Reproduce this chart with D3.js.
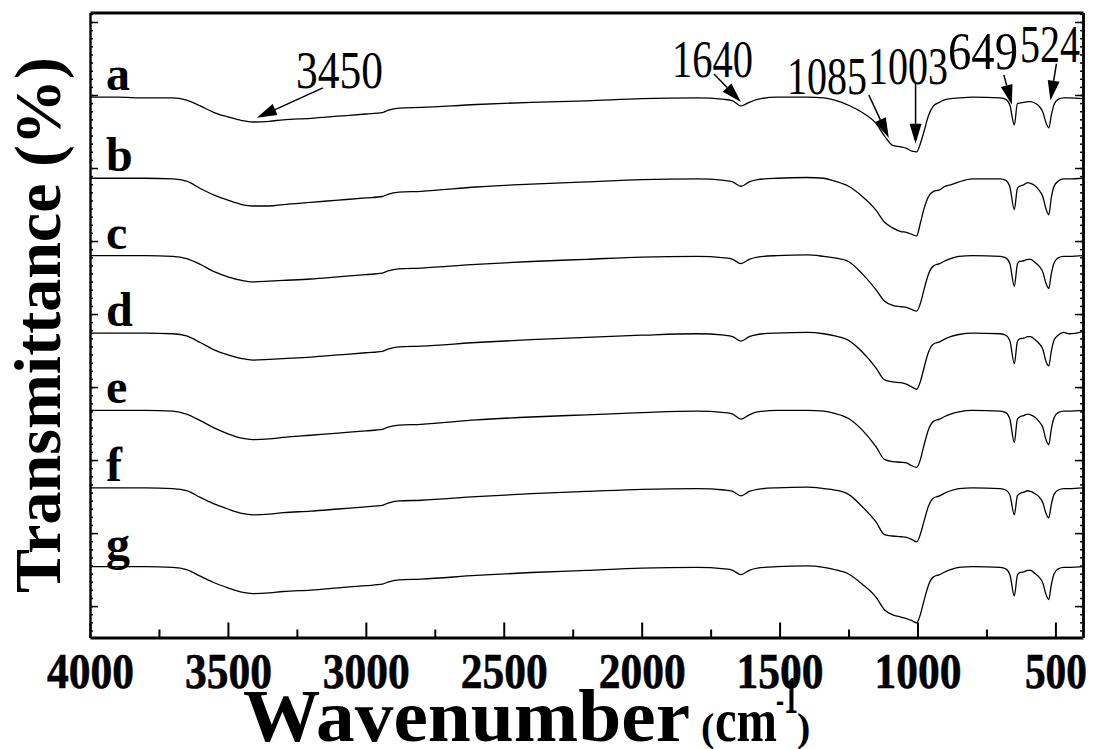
<!DOCTYPE html>
<html><head><meta charset="utf-8">
<script src="https://cdn.jsdelivr.net/npm/d3@7"></script>
<style>body{margin:0;background:#fff;} svg{display:block;}</style>
</head><body><svg id="c" width="1097" height="749"></svg>
<script>
// ---------- data ----------
const wavenumbers = [4000,3900,3800,3700,3650,3600,3550,3500,3450,3410,
  3350,3300,3200,3100,3000,2940,2920,2880,2800,2600,
  2400,2200,2000,1800,1700,1670,1640,1610,1580,1510,
  1400,1340,1300,1250,1200,1150,1120,1090,1060,1040,
  1020,1003,990,978,960,942,920,905,880,850,
  800,700,680,665,649,638,630,615,600,590,
  575,560,545,535,524,515,505,490,470,450,400];
const seriesNames = ["a","b","c","d","e","f","g"];
const offsets = [69.7, 58.6, 48.0, 37.4, 26.8, 16.2, 5.4];
const sA = [0,0,-0.1,-0.1,-0.4,-1.2,-2.1,-2.7,-3.2,-3.4,
  -3.3,-3.1,-2.9,-2.6,-2.3,-2.1,-1.8,-1.5,-1.4,-1.0,
  -0.7,-0.5,-0.2,-0.1,-0.3,-0.5,-1.2,-0.7,-0.3,0,
  0,-0.1,-0.4,-1.1,-2.1,-3.6,-5.3,-6.6,-6.8,-7.0,
  -7.4,-7.5,-6.4,-4.9,-2.5,-1.2,-0.7,-0.4,-0.2,-0.1,
  0,-0.1,-0.3,-1.1,-3.8,-0.9,-0.8,-0.7,-0.6,-0.6,
  -0.8,-1.2,-2.1,-3.4,-4.2,-2.5,-1.0,-0.3,-0.1,-0.1,-0.2];
const sB = [0,0,0,-0.1,-0.4,-1.4,-2.3,-3.0,-3.6,-3.8,
  -3.8,-3.6,-3.3,-3.0,-2.7,-2.5,-2.2,-1.9,-1.8,-1.2,
  -0.8,-0.5,-0.2,-0.1,-0.3,-0.5,-1.1,-0.5,-0.2,0,
  0.1,0,-0.4,-1.1,-2.5,-4.4,-6.0,-6.8,-7.3,-7.4,
  -7.7,-7.9,-6.2,-4.4,-2.5,-1.8,-1.6,-1.2,-0.9,-0.5,
  -0.1,-0.1,-0.3,-1.2,-4.3,-1.4,-1.1,-0.9,-0.6,-0.7,
  -1.0,-1.6,-2.6,-4.1,-5.0,-2.7,-1.1,-0.4,-0.1,-0.1,0];
const sC = [0,0,0,-0.1,-0.4,-1.2,-2.2,-2.9,-3.4,-3.6,
  -3.5,-3.4,-3.2,-2.9,-2.6,-2.4,-2.1,-1.8,-1.7,-1.2,
  -0.8,-0.5,-0.2,-0.1,-0.3,-0.5,-1.1,-0.5,-0.2,0,
  0.1,-0.1,-0.3,-0.8,-2.5,-4.7,-6.2,-6.8,-7.0,-7.1,
  -7.4,-7.6,-6.6,-4.9,-2.5,-1.4,-1.1,-0.8,-0.4,-0.1,
  0,-0.1,-0.3,-1.1,-4.2,-1.2,-0.8,-0.7,-0.5,-0.5,
  -0.9,-1.4,-2.3,-3.7,-4.5,-2.5,-1.0,-0.3,-0.1,-0.1,0];
const sD = [0,0,0,-0.1,-0.4,-1.3,-2.3,-3.0,-3.5,-3.7,
  -3.6,-3.5,-3.3,-3.0,-2.7,-2.5,-2.2,-1.9,-1.8,-1.3,
  -0.9,-0.6,-0.3,-0.1,-0.3,-0.5,-1.1,-0.5,-0.2,0,
  0.1,-0.1,-0.4,-1.0,-2.6,-4.8,-6.4,-6.7,-6.8,-7.0,
  -7.4,-7.7,-6.7,-5.0,-2.6,-1.5,-1.2,-0.9,-0.5,-0.2,
  0,-0.1,-0.3,-1.1,-4.2,-1.2,-0.8,-0.7,-0.5,-0.5,
  -0.9,-1.4,-2.3,-3.8,-4.5,-2.5,-1.0,-0.3,0.1,-0.1,0.2];
const sE = [0,0,0,-0.1,-0.5,-1.4,-2.4,-3.2,-3.8,-4.0,
  -3.9,-3.7,-3.4,-3.1,-2.8,-2.6,-2.3,-2.0,-1.9,-1.3,
  -0.9,-0.6,-0.3,-0.1,-0.3,-0.5,-1.2,-0.6,-0.2,0,
  0,-0.1,-0.4,-1.1,-2.7,-5.0,-6.7,-7.0,-7.1,-7.2,
  -7.6,-7.8,-6.8,-5.0,-2.6,-1.5,-1.2,-0.9,-0.5,-0.2,
  0,-0.1,-0.3,-1.2,-4.4,-1.2,-0.9,-0.7,-0.5,-0.6,
  -0.9,-1.5,-2.4,-3.9,-4.7,-2.6,-1.0,-0.3,-0.1,-0.1,0];
const sF = [0,0,0,-0.1,-0.4,-1.3,-2.2,-2.9,-3.5,-3.7,
  -3.6,-3.4,-3.2,-2.9,-2.6,-2.4,-2.1,-1.8,-1.7,-1.2,
  -0.8,-0.5,-0.2,-0.1,-0.3,-0.5,-1.1,-0.5,-0.2,0,
  0.1,-0.1,-0.3,-0.9,-2.6,-4.7,-6.4,-6.6,-6.7,-6.8,
  -7.1,-7.4,-6.4,-4.8,-2.5,-1.4,-1.1,-0.8,-0.4,-0.1,
  0,-0.1,-0.3,-1.0,-3.7,-1.1,-0.8,-0.6,-0.4,-0.5,
  -0.8,-1.2,-2.1,-3.4,-4.1,-2.3,-0.9,-0.3,-0.1,-0.1,0];
const sG = [0,0,0,-0.1,-0.4,-1.3,-2.2,-2.9,-3.5,-3.7,
  -3.6,-3.4,-3.2,-2.9,-2.6,-2.4,-2.1,-1.8,-1.7,-1.2,
  -0.8,-0.5,-0.2,-0.1,-0.3,-0.5,-1.1,-0.5,-0.2,0,
  0.1,-0.1,-0.4,-1.0,-2.4,-4.2,-5.9,-6.6,-6.9,-7.1,
  -7.4,-7.7,-6.6,-4.9,-2.5,-1.4,-1.1,-0.8,-0.4,-0.1,
  0,-0.1,-0.3,-1.1,-4.0,-1.2,-0.8,-0.7,-0.5,-0.5,
  -0.9,-1.4,-2.3,-3.7,-4.5,-2.5,-1.0,-0.3,-0.1,-0.1,0];

const xTicks = [4000,3500,3000,2500,2000,1500,1000,500];
const xMinorTicks = [3750,3250,2750,2250,1750,1250,750];
const yMajorTicks = [0,10,20,30,40,50,60,70,80];
const yMinorTicks = d3.range(-36, 74).map(k => k * 10 / 9);

const annoText = ["3450","1640","1085","1003","649","524"];
const annoTipWave = [3395, 1640, 1104, 1007, 658, 518];

const xTitle = "Wavenumber";
const yTitle = "Transmittance (%)";

// ---------- layout ----------
const FONT = "'Liberation Serif','Times New Roman',Times,serif";
const svg = d3.select("#c");
const x = d3.scaleLinear().domain([4000, 400]).range([90, 1083]);
const y = d3.scaleLinear().domain([-4.3, 81.3]).range([637.5, 12.5]);
const [x0, x1] = x.range();
const [yB, yT] = y.range();

// spectra
const seriesVals = [sA, sB, sC, sD, sE, sF, sG];
const line = d3.line().x(d => x(d[0])).y(d => y(d[1])).curve(d3.curveMonotoneX);
seriesVals.forEach((vals, i) => {
  const pts = wavenumbers.map((w, j) => [w, offsets[i] + vals[j]]);
  svg.append("path").attr("d", line(pts)).attr("fill", "none")
    .attr("stroke", "#000").attr("stroke-width", 1.3).attr("stroke-linejoin", "round");
});

// series labels
svg.selectAll("text.lab").data(seriesNames).join("text").attr("class", "lab")
  .attr("x", 106).attr("y", (d, i) => y(offsets[i]) - 7)
  .attr("font-family", FONT).attr("font-weight", "bold").attr("font-size", 48)
  .text(d => d);

// axes
function styleAxis(g, w) {
  g.select(".domain").attr("stroke", "#000").attr("stroke-width", w);
  g.selectAll(".tick line").attr("stroke", "#000").attr("stroke-width", 2);
}
const gBot = svg.append("g").attr("transform", `translate(0,${yB})`)
  .call(d3.axisBottom(x).tickValues(xTicks).tickSize(-15).tickSizeOuter(0).tickFormat(d3.format("d")));
styleAxis(gBot, 2.8);
gBot.selectAll(".tick text").attr("y", 50).attr("dy", 0)
  .attr("font-family", FONT).attr("font-weight", "bold").attr("font-size", 50).attr("fill", "#000")
  .attr("stroke", "#000").attr("stroke-width", 0.6)
  .attr("textLength", d => d >= 1000 ? 87 : 62).attr("lengthAdjust", "spacingAndGlyphs");
const gBotMin = svg.append("g").attr("transform", `translate(0,${yB})`)
  .call(d3.axisBottom(x).tickValues(xMinorTicks).tickSize(-8).tickSizeOuter(0).tickFormat(""));
gBotMin.select(".domain").remove();
gBotMin.selectAll(".tick line").attr("stroke", "#000").attr("stroke-width", 2);

const gTop = svg.append("g").attr("transform", `translate(0,${yT})`)
  .call(d3.axisTop(x).tickValues([]).tickSizeOuter(0));
styleAxis(gTop, 2.8);

const yMinorIn = yMinorTicks.filter(v => v > -4.2 && v < 81.2);
const gL = svg.append("g").attr("transform", `translate(${x0},0)`)
  .call(d3.axisLeft(y).tickValues(yMajorTicks).tickSize(-8).tickSizeOuter(0).tickFormat(""));
styleAxis(gL, 2.4);
gL.selectAll(".tick line").attr("stroke-width", 1.5);
const gLm = svg.append("g").attr("transform", `translate(${x0},0)`)
  .call(d3.axisLeft(y).tickValues(yMinorIn).tickSize(-3).tickSizeOuter(0).tickFormat(""));
gLm.select(".domain").remove();
gLm.selectAll(".tick line").attr("stroke", "#000").attr("stroke-width", 1.5);

const gR = svg.append("g").attr("transform", `translate(${x1},0)`)
  .call(d3.axisRight(y).tickValues(yMajorTicks).tickSize(-8).tickSizeOuter(0).tickFormat(""));
styleAxis(gR, 2.8);
gR.selectAll(".tick line").attr("stroke-width", 1.5);
const gRm = svg.append("g").attr("transform", `translate(${x1},0)`)
  .call(d3.axisRight(y).tickValues(yMinorIn).tickSize(-3).tickSizeOuter(0).tickFormat(""));
gRm.select(".domain").remove();
gRm.selectAll(".tick line").attr("stroke", "#000").attr("stroke-width", 1.5);

// axis titles
svg.append("text").attr("transform", `translate(60,${(yB + yT) / 2}) rotate(-90)`)
  .attr("text-anchor", "middle").attr("font-family", FONT).attr("font-weight", "bold")
  .attr("font-size", 66).text(yTitle);
const xt = svg.append("text").attr("font-family", FONT).attr("font-weight", "bold").attr("y", 741);
xt.append("tspan").attr("x", 243).attr("font-size", 73).attr("textLength", 447)
  .attr("lengthAdjust", "spacingAndGlyphs").text(xTitle);
xt.append("tspan").attr("x", 701).attr("font-size", 40).text("(");
xt.append("tspan").attr("x", 715).attr("font-size", 62).attr("textLength", 62)
  .attr("lengthAdjust", "spacingAndGlyphs").text("cm");
xt.append("tspan").attr("x", 776).attr("y", 713).attr("font-size", 40)
  .attr("textLength", 8).attr("lengthAdjust", "spacingAndGlyphs").text("-");
xt.append("tspan").attr("x", 784).attr("y", 713).attr("font-size", 52)
  .attr("textLength", 14).attr("lengthAdjust", "spacingAndGlyphs").text("1");
xt.append("tspan").attr("x", 797).attr("y", 741).attr("font-size", 40).text(")");

// annotations (arrow tips located on spectrum a)
function valueAt(vals, w) {
  for (let j = 0; j < wavenumbers.length - 1; j++) {
    const wa = wavenumbers[j], wb = wavenumbers[j + 1];
    if (w <= wa && w >= wb) {
      const t = (wa - w) / (wa - wb);
      return vals[j] + t * (vals[j + 1] - vals[j]);
    }
  }
  return 0;
}
const tipGap = [4, 4, 3, 8, 9, 19];
const tailD = [[66, -30], [-27, -28], [-20, -43], [0, -60], [-8, -30], [6, -37]];
const textPos = [[296, 88, 87], [672, 77, 81], [787, 94, 80], [868, 84, 80], [948, 69, 70], [1020, 62, 60]];
annoText.forEach((t, i) => {
  const tx = x(annoTipWave[i]);
  const ty = y(offsets[0] + valueAt(sA, annoTipWave[i])) - tipGap[i];
  const sx = tx + tailD[i][0], sy = ty + tailD[i][1];
  const L = Math.hypot(sx - tx, sy - ty), ux = (sx - tx) / L, uy = (sy - ty) / L;
  const hl = 20, hw = 6;
  const bx = tx + ux * hl, by = ty + uy * hl;
  svg.append("line").attr("x1", sx).attr("y1", sy).attr("x2", bx).attr("y2", by)
    .attr("stroke", "#000").attr("stroke-width", 1.5);
  svg.append("path").attr("d", `M${tx},${ty}L${bx - uy * hw},${by + ux * hw}L${bx + uy * hw},${by - ux * hw}Z`)
    .attr("fill", "#000");
  svg.append("text").attr("x", textPos[i][0]).attr("y", textPos[i][1])
    .attr("font-family", FONT).attr("font-size", 52)
    .attr("textLength", textPos[i][2]).attr("lengthAdjust", "spacingAndGlyphs").text(t);
});
</script></body></html>
